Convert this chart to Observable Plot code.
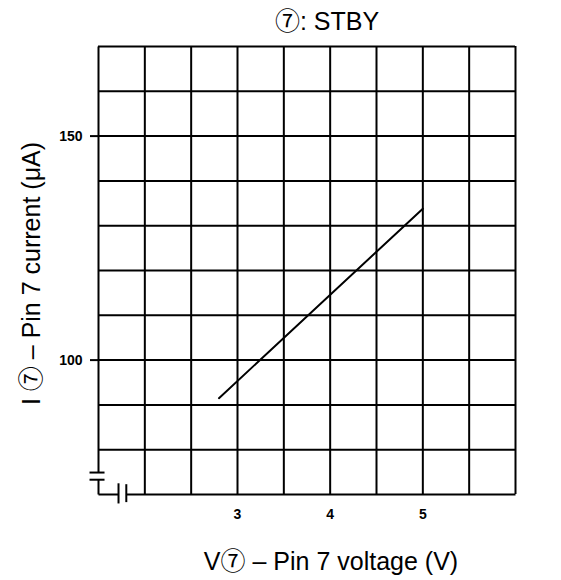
<!DOCTYPE html>
<html>
<head>
<meta charset="utf-8">
<script src="https://cdn.jsdelivr.net/npm/d3@7"></script>
<script src="https://cdn.jsdelivr.net/npm/@observablehq/plot@0.6"></script>
<style>
  html, body { margin: 0; padding: 0; background: #fff; }
  svg { display: block; }
</style>
</head>
<body>
<div id="chart"></div>
<script>
// ---- data ----
const titleText = "⑦: STBY";
const xLabel = "V⑦ – Pin 7 voltage (V)";
const yLabel = "I ⑦ – Pin 7 current (μA)";

const xDomain = [1.5, 6];
const yDomain = [70, 170];

const xTicks = [3, 4, 5];
const yTicks = [100, 150];

// grid lines (0.5 V and 10 µA spacing); the left and bottom edges are drawn broken below
const gridX = [2, 2.5, 3, 3.5, 4, 4.5, 5, 5.5, 6];
const gridY = [80, 90, 100, 110, 120, 130, 140, 150, 160, 170];

// measured curve: pin 7 current vs pin 7 voltage
const voltage = [2.8, 5.0];
const current = [91.5, 133.8];

// axis-break decoration segments (data coordinates)
const breakSegments = [
  {x1: 1.5, y1: 74.9, x2: 1.5, y2: 170},
  {x1: 1.5, y1: 70, x2: 1.5, y2: 73.3},
  {x1: 1.403, y1: 74.9, x2: 1.565, y2: 74.9},
  {x1: 1.403, y1: 73.3, x2: 1.565, y2: 73.3},
  {x1: 1.5, y1: 70, x2: 1.716, y2: 70},
  {x1: 1.80, y1: 70, x2: 6, y2: 70},
  {x1: 1.716, y1: 68.0, x2: 1.716, y2: 72.5},
  {x1: 1.80, y1: 68.3, x2: 1.80, y2: 72.3}
];

const curve = voltage.map((v, i) => ({v, i: current[i]}));

const font = "'Liberation Sans', Arial, Helvetica, 'Noto Sans CJK JP', sans-serif";

const chart = Plot.plot({
  width: 561,
  height: 580,
  marginLeft: 98,
  marginRight: 46,
  marginTop: 46,
  marginBottom: 86,
  style: {background: "#fff", fontFamily: font, color: "#000"},
  x: {domain: xDomain, axis: null},
  y: {domain: yDomain, axis: null},
  marks: [
    Plot.ruleX(gridX, {stroke: "#000", strokeWidth: 2}),
    Plot.ruleY(gridY, {stroke: "#000", strokeWidth: 2}),
    Plot.link(breakSegments, {x1: "x1", y1: "y1", x2: "x2", y2: "y2", stroke: "#000", strokeWidth: 2}),
    Plot.axisY({ticks: yTicks, tickSize: 8, tickPadding: 8, strokeWidth: 2,
      fontSize: 14, fontWeight: "bold", fontFamily: font, label: null}),
    Plot.axisX({ticks: xTicks, tickFormat: d => String(d), tickSize: 0, tickPadding: 15,
      fontSize: 14, fontWeight: "bold", fontFamily: font, label: null}),
    Plot.line(curve, {x: "v", y: "i", stroke: "#000", strokeWidth: 2}),
    Plot.text([titleText], {frameAnchor: "top", dx: 20, dy: -25, lineAnchor: "middle",
      textAnchor: "middle", fontSize: 25, fontFamily: font, fill: "#000"}),
    Plot.text([xLabel], {frameAnchor: "bottom", dx: 24, dy: 67, lineAnchor: "middle",
      textAnchor: "middle", fontSize: 25, fontFamily: font, fill: "#000"}),
    Plot.text([yLabel], {frameAnchor: "left", dx: -67, dy: 3, rotate: -90, lineAnchor: "middle",
      textAnchor: "middle", fontSize: 25, fontFamily: font, fill: "#000"})
  ]
});
document.getElementById("chart").appendChild(chart);
</script>
</body>
</html>
